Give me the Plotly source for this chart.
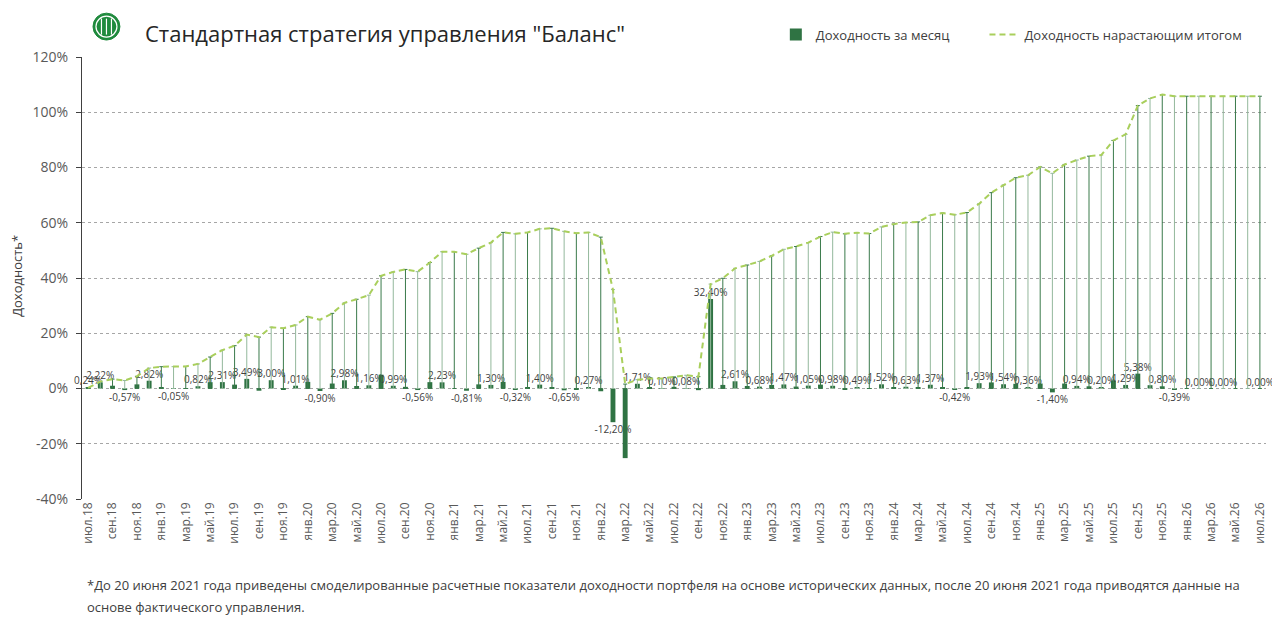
import plotly.graph_objects as go

# ---------------- data ----------------
months = [
    "июл.18", "авг.18", "сен.18", "окт.18", "ноя.18", "дек.18",
    "янв.19", "фев.19", "мар.19", "апр.19", "май.19", "июн.19",
    "июл.19", "авг.19", "сен.19", "окт.19", "ноя.19", "дек.19",
    "янв.20", "фев.20", "мар.20", "апр.20", "май.20", "июн.20",
    "июл.20", "авг.20", "сен.20", "окт.20", "ноя.20", "дек.20",
    "янв.21", "фев.21", "мар.21", "апр.21", "май.21", "июн.21",
    "июл.21", "авг.21", "сен.21", "окт.21", "ноя.21", "дек.21",
    "янв.22", "фев.22", "мар.22", "апр.22", "май.22", "июн.22",
    "июл.22", "авг.22", "сен.22", "окт.22", "ноя.22", "дек.22",
    "янв.23", "фев.23", "мар.23", "апр.23", "май.23", "июн.23",
    "июл.23", "авг.23", "сен.23", "окт.23", "ноя.23", "дек.23",
    "янв.24", "фев.24", "мар.24", "апр.24", "май.24", "июн.24",
    "июл.24", "авг.24", "сен.24", "окт.24", "ноя.24", "дек.24",
    "янв.25", "фев.25", "мар.25", "апр.25", "май.25", "июн.25",
    "июл.25", "авг.25", "сен.25", "окт.25", "ноя.25", "дек.25",
    "янв.26", "фев.26", "мар.26", "апр.26", "май.26", "июн.26",
    "июл.26",
]

# monthly return, %
monthly = [
    0.24, 2.22, 1.0, -0.57, 1.5, 2.82, 0.5, -0.05, 0.1, 0.82,
    2.3, 2.31, 1.4, 3.49, -0.8, 3.00, -0.3, 1.01, 2.4, -0.90,
    1.8, 2.98, 0.9, 1.16, 5.0, 0.99, 0.6, -0.56, 2.3, 2.23,
    0.0, -0.81, 1.5, 1.30, 2.4, -0.32, 0.4, 1.40, 0.2, -0.65,
    -0.5, 0.27, -1.0, -12.20, -25.2, 1.71, 0.5, 0.10, 0.6, 0.08,
    -0.6, 32.40, 1.3, 2.61, 0.9, 0.68, 1.3, 1.47, 0.7, 1.05,
    1.4, 0.98, -0.3, 0.49, -0.1, 1.52, 0.5, 0.63, 0.2, 1.37,
    0.5, -0.42, 0.4, 1.93, 2.2, 1.54, 1.7, 0.36, 1.8, -1.40,
    1.8, 0.94, 0.8, 0.20, 2.9, 1.29, 5.38, 1.2, 0.80, -0.39,
    0.00, 0.00, 0.00, 0.00, 0.00, 0.00, 0.00,
]

# cumulative return, %
cumulative = [
    0.24, 2.5, 3.4, 2.9, 4.4, 7.4, 7.9, 7.9, 8.0, 8.9,
    11.4, 13.9, 15.5, 19.5, 18.6, 22.2, 21.8, 23.0, 26.0, 24.9,
    27.2, 31.0, 32.3, 33.8, 40.8, 42.2, 43.1, 42.3, 45.6, 49.5,
    49.5, 48.6, 50.8, 52.8, 56.5, 56.0, 56.5, 57.8, 58.0, 56.9,
    56.2, 56.5, 54.8, 35.8, 1.6, 3.2, 3.6, 3.6, 4.2, 4.8,
    4.3, 37.8, 39.9, 43.5, 44.7, 46.0, 48.0, 50.4, 51.4, 52.8,
    55.0, 56.6, 56.0, 56.4, 56.1, 58.5, 59.5, 60.1, 60.3, 62.7,
    63.5, 62.9, 63.7, 66.9, 70.9, 73.7, 76.3, 77.2, 80.2, 77.9,
    81.1, 82.7, 84.1, 84.5, 89.8, 92.0, 102.4, 105.0, 106.4, 105.8,
    105.8, 105.8, 105.8, 105.8, 105.8, 105.8, 105.8,
]

# months whose bar carries a visible value label
labeled = [0] + list(range(1, 86, 2)) + [86, 88, 89, 91, 93, 96]

y_ticks = [-40, -20, 0, 20, 40, 60, 80, 100, 120]

series_names = ["Доходность за месяц", "Доходность нарастающим итогом"]
title_text = 'Стандартная стратегия управления "Баланс"'
y_title = "Доходность*"
footnote_1 = ("*До 20 июня 2021 года приведены смоделированные расчетные показатели доходности "
              "портфеля на основе исторических данных, после 20 июня 2021 года приводятся данные на")
footnote_2 = "основе фактического управления."

# ---------------- styling ----------------
FONT = "Open Sans"
BAR_C = "#2f7343"
LINE_C = "#a9cf5c"
DROP_DARK = "#3a7a4b"
DROP_LIGHT = "#93b89c"
GRID_C = "#a6a6a6"
TXT = "#404040"
TICK_TXT = "#595959"

OFF = 8                      # page body margin in the browser
W, H = 1280 - OFF, 631 - 2 * OFF
ML, MT = 82 - OFF, 55.5 - OFF
MR = W - (1268 - OFF)
MB = H - (499 - OFF)
PW, PH = W - ML - MR, H - MT - MB


def px_x(px):
    """page pixel x (reference) -> paper coordinate"""
    return (px - OFF - ML) / PW


def px_y(py):
    """page pixel y (reference) -> paper coordinate"""
    return (H - MB - (py - OFF)) / PH


x = list(range(len(months)))


def fmt(v):
    return f"{v:.2f}%".replace(".", ",")


bar_text = [fmt(monthly[i]) if i in labeled else "" for i in x]

fig = go.Figure()

# drop lines from cumulative curve to zero (error bars with caps)
for parity, col in ((0, DROP_DARK), (1, DROP_LIGHT)):
    idx = [i for i in x if i % 2 == parity]
    vals = [cumulative[i] for i in idx]
    fig.add_trace(go.Scatter(
        x=idx, y=vals, mode="markers",
        marker=dict(size=1, color="rgba(0,0,0,0)"),
        error_y=dict(type="data", symmetric=False, array=[0] * len(idx),
                     arrayminus=vals, color=col, thickness=1, width=2),
        showlegend=False, hoverinfo="skip",
    ))

fig.add_trace(go.Bar(
    x=x, y=monthly, width=0.4, name=series_names[0], legend="legend",
    marker=dict(color=BAR_C, line=dict(width=0)),
    text=bar_text, textposition="outside", constraintext="none",
    cliponaxis=False, textfont=dict(size=10, color=TXT, family=FONT),
))

fig.add_trace(go.Scatter(
    x=x, y=cumulative, mode="lines", name=series_names[1], legend="legend2",
    line=dict(color=LINE_C, width=2, dash="6px,4px"),
))

annotations = [
    dict(text=title_text, x=px_x(143), y=px_y(31), xref="paper", yref="paper",
         xanchor="left", yanchor="middle", showarrow=False,
         font=dict(size=22, color="#262626", family=FONT)),
    dict(text=y_title, x=px_x(17), y=px_y(275), xref="paper", yref="paper",
         xanchor="center", yanchor="middle", textangle=-90, showarrow=False,
         font=dict(size=13, color=TXT, family=FONT)),
    dict(text=footnote_1, x=px_x(85), y=px_y(585), xref="paper", yref="paper",
         xanchor="left", yanchor="middle", showarrow=False,
         font=dict(size=13, color=TXT, family=FONT)),
    dict(text=footnote_2, x=px_x(85), y=px_y(607), xref="paper", yref="paper",
         xanchor="left", yanchor="middle", showarrow=False,
         font=dict(size=13, color=TXT, family=FONT)),
]

# logo: green disc with white ring and stripes
shapes = [
    dict(type="circle", xref="paper", yref="paper",
         x0=px_x(93), x1=px_x(120), y0=px_y(38.5), y1=px_y(11.5),
         fillcolor="#1f8a3d", line=dict(color="#1f8a3d", width=1)),
    dict(type="circle", xref="paper", yref="paper",
         x0=px_x(96), x1=px_x(117), y0=px_y(35.5), y1=px_y(14.5),
         fillcolor="rgba(0,0,0,0)", line=dict(color="white", width=1.2)),
]
for lx in (101.5, 106.5, 111.5):
    shapes.append(dict(type="line", xref="paper", yref="paper",
                       x0=px_x(lx), x1=px_x(lx), y0=px_y(33), y1=px_y(17),
                       line=dict(color="white", width=1.2)))

legend_common = dict(orientation="h", xanchor="left", yanchor="middle",
                     font=dict(size=13, color=TXT, family=FONT),
                     bgcolor="rgba(0,0,0,0)")

fig.update_layout(
    width=W, height=H,
    margin=dict(l=ML, r=MR, t=MT, b=MB, pad=0),
    paper_bgcolor="white", plot_bgcolor="white",
    font=dict(family=FONT, color=TXT),
    bargap=0.6,
    showlegend=True,
    legend=dict(x=px_x(777), y=px_y(33), **legend_common),
    legend2=dict(x=px_x(986), y=px_y(33), **legend_common),
    annotations=annotations,
    shapes=shapes,
    xaxis=dict(range=[-0.5, len(months) - 0.5], tickmode="array",
               tickvals=x[::2], ticktext=months[::2], tickangle=-90,
               tickfont=dict(size=12, color=TICK_TXT, family=FONT),
               showgrid=False, zeroline=False, showline=False, ticks=""),
    yaxis=dict(range=[-40, 120], tickmode="array", tickvals=y_ticks,
               ticktext=[f"{v}%" for v in y_ticks],
               tickfont=dict(size=14, color=TICK_TXT, family=FONT),
               showgrid=True, gridcolor=GRID_C, griddash="3px,3px", gridwidth=1,
               zeroline=False, showline=True, linecolor="#404040", linewidth=1,
               ticks="outside", ticklen=5, tickcolor="#404040",
               ticklabelstandoff=5),
)

fig.write_html("out.html")
